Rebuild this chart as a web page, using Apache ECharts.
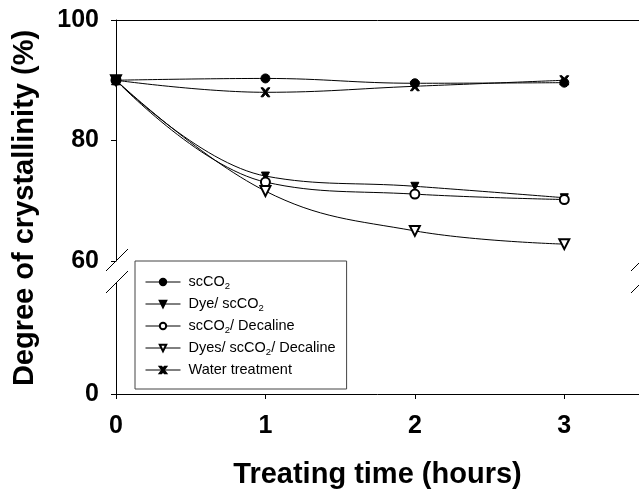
<!DOCTYPE html>
<html>
<head>
<meta charset="utf-8">
<script src="https://cdn.jsdelivr.net/npm/echarts@6/dist/echarts.min.js"></script>
<style>
  html, body { margin: 0; padding: 0; background: #fff; }
  #main { width: 639px; height: 490px; }
</style>
</head>
<body>
<div id="main"></div>
<script>
// treating time (hours)
var hours = [0, 1, 2, 3];

// degree of crystallinity (%)
var scCO2 = [90.0, 90.3, 89.5, 89.6];
var dyeScCO2 = [90.0, 74.1, 72.4, 70.5];
var scCO2Decaline = [90.0, 73.1, 71.1, 70.2];
var dyesScCO2Decaline = [90.0, 71.6, 65.0, 62.8];
var water = [90.0, 88.0, 89.0, 90.0];

var seriesNames = ['scCO2', 'Dye/ scCO2', 'scCO2/ Decaline', 'Dyes/ scCO2/ Decaline', 'Water treatment'];

// layout
var L = 116, W = 525;
var topY = 20, topH = 241;      // 60..100
var lowY = 283, lowH = 114;     // 0..

function pairs(vals) {
  return hours.map(function (h, i) { return [h, vals[i]]; });
}

var crossPath = 'path://M0,0 L2.5,0 L5,3 L7.5,0 L10,0 L6.3,5 L10,10 L7.5,10 L5,7 L2.5,10 L0,10 L3.7,5 Z';

function mkSeries(name, vals, symbol, opts) {
  var s = {
    name: name,
    type: 'line',
    xAxisIndex: 0,
    yAxisIndex: 0,
    data: pairs(vals),
    smooth: 0.4,
    symbol: symbol,
    symbolSize: 9,
    lineStyle: { color: '#000', width: 1 },
    itemStyle: { color: '#000', borderColor: '#000', borderWidth: 1 }
  };
  for (var k in opts) s[k] = opts[k];
  return s;
}

var myChart = echarts.init(document.getElementById('main'));

var fontFam = 'Arial, Liberation Sans, sans-serif';
var axisFont = { fontFamily: fontFam, fontWeight: 'bold', fontSize: 25, color: '#000' };

// break marks (double slash) at both ends of the gap
function slash(cx, cy) {
  return {
    type: 'line',
    shape: { x1: cx - 10, y1: cy + 10, x2: cx + 12, y2: cy - 12 },
    style: { stroke: '#000', lineWidth: 1 },
    silent: true
  };
}

option = {
  animation: false,
  backgroundColor: '#fff',
  grid: [
    { left: L, top: topY, width: W, height: topH },
    { left: L, top: lowY, width: W, height: lowH }
  ],
  xAxis: [
    {
      gridIndex: 0, type: 'value', min: 0, max: 3.5, interval: 1,
      position: 'top',
      axisLine: { show: true, lineStyle: { color: '#000', width: 1 } },
      axisTick: { show: false },
      axisLabel: { show: false },
      splitLine: { show: false }
    },
    {
      gridIndex: 1, type: 'value', min: 0, max: 3.5, interval: 1,
      position: 'bottom',
      axisLine: { show: true, onZero: false, lineStyle: { color: '#000', width: 1 } },
      axisTick: { show: true, length: 5, lineStyle: { color: '#000' } },
      axisLabel: Object.assign({ margin: 20, showMaxLabel: false }, axisFont),
      splitLine: { show: false },
      name: 'Treating time (hours)',
      nameLocation: 'middle',
      nameGap: 66,
      nameTextStyle: { fontFamily: fontFam, fontWeight: 'bold', fontSize: 29, color: '#000' }
    }
  ],
  yAxis: [
    {
      gridIndex: 0, type: 'value', min: 60, max: 100, interval: 20,
      axisLine: { show: true, onZero: false, lineStyle: { color: '#000', width: 1 } },
      axisTick: { show: true, length: 5, lineStyle: { color: '#000' } },
      axisLabel: Object.assign({ margin: 17 }, axisFont),
      splitLine: { show: false }
    },
    {
      gridIndex: 1, type: 'value', min: 0, max: 20, interval: 20,
      axisLine: { show: true, onZero: false, lineStyle: { color: '#000', width: 1 } },
      axisTick: { show: true, length: 5, customValues: [0], lineStyle: { color: '#000' } },
      axisLabel: Object.assign({ margin: 17, customValues: [0] }, axisFont),
      splitLine: { show: false }
    }
  ],
  legend: {
    orient: 'vertical',
    left: 135,
    top: 261,
    padding: [12, 11, 10, 10],
    itemGap: 4,
    itemWidth: 35,
    itemHeight: 8,
    borderColor: '#444',
    borderWidth: 1,
    backgroundColor: '#fff',
    lineStyle: { width: 1, color: '#000' },
    data: seriesNames,
    formatter: function (n) { return n.replace(/CO2/g, 'CO{sub|2}'); },
    textStyle: {
      fontFamily: fontFam,
      fontSize: 14.5,
      lineHeight: 18,
      color: '#000',
      padding: [0, 0, 0, 3],
      rich: {
        sub: { fontSize: 9.5, lineHeight: 18, verticalAlign: 'bottom', color: '#000', fontFamily: fontFam }
      }
    }
  },
  graphic: [
    {
      type: 'text',
      x: 25, y: 208,
      rotation: Math.PI / 2,
      style: {
        text: 'Degree of crystallinity (%)',
        fontFamily: fontFam,
        fontWeight: 'bold',
        fontSize: 29,
        fill: '#000',
        align: 'center',
        verticalAlign: 'middle'
      }
    },
    slash(L, topY + topH),
    slash(L, lowY),
    slash(L + W, topY + topH),
    slash(L + W, lowY)
  ],
  series: [
    mkSeries(seriesNames[0], scCO2, 'circle', { z: 5 }),
    mkSeries(seriesNames[1], dyeScCO2, 'triangle', { symbolRotate: 180, symbolSize: 8 }),
    mkSeries(seriesNames[2], scCO2Decaline, 'emptyCircle', { z: 3 }),
    mkSeries(seriesNames[3], dyesScCO2Decaline, 'emptyTriangle', { symbolRotate: 180, symbolSize: 10 }),
    mkSeries(seriesNames[4], water, crossPath, { symbolSize: 9, z: 4 })
  ]
};

myChart.setOption(option);
</script>
</body>
</html>
